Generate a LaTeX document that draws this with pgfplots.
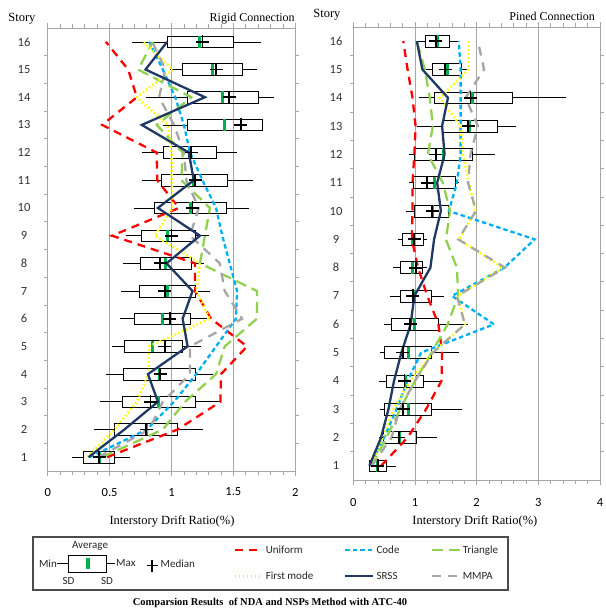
\documentclass[border=0pt]{standalone}
\usepackage{fontspec}
\setmainfont{Liberation Serif}
\newfontfamily\carlito{Carlito}
\usepackage{pgfplots}
\pgfplotsset{compat=1.18}
\usepgfplotslibrary{statistics}

\definecolor{cUni}{HTML}{FF0000}
\definecolor{cCode}{HTML}{00B0F0}
\definecolor{cTri}{HTML}{92D050}
\definecolor{cFirst}{HTML}{FFFF00}
\definecolor{cSRSS}{HTML}{1F3864}
\definecolor{cMMPA}{HTML}{A6A6A6}
\definecolor{cAvg}{HTML}{00B050}
\definecolor{cGrid}{HTML}{A6A6A6}

\pgfplotsset{
  panel/.style={
    scale only axis, ymin=0.5, ymax=16.5,
    ytick={1,...,16}, minor ytick={1.5,2.5,...,15.5},
    every major y tick/.style={draw=none},
    tick align=outside, major tick length=5pt, minor tick length=3.5pt,
    every tick/.style={cGrid, line width=0.7pt},
    xmajorgrids, grid style={cGrid, line width=0.9pt},
    axis line style={cGrid, line width=0.9pt},
    tick label style={font=\carlito\fontsize{12.5}{13}\selectfont, black},
    /pgf/number format/assume math mode=true,
    yticklabel style={anchor=center, text=black!80},
    boxplot/draw direction=x,
    boxplot/box extend=0.42,
    boxplot/whisker extend=0,
    boxplot/every box/.style={draw=black, line width=0.6pt},
    boxplot/every whisker/.style={black, line width=0.6pt},
    boxplot/every median/.style={draw=cAvg, line width=3pt},
    legend image code/.code={\draw[##1] (0pt,0pt) -- (28pt,0pt);},
  },
  Uni/.style={cUni, line width=2.3pt, dash pattern=on 8pt off 6pt},
  Code/.style={cCode, line width=2.3pt, dash pattern=on 4.5pt off 3pt},
  Tri/.style={cTri, line width=2.3pt, dash pattern=on 11pt off 6pt},
  First/.style={cFirst, line width=2.5pt, dash pattern=on 1.6pt off 2.4pt},
  SRSS/.style={cSRSS, line width=2.3pt},
  MMPA/.style={cMMPA, line width=2.3pt, dash pattern=on 9pt off 7pt},
  Med/.style={only marks, mark=+, mark size=6.5pt, black, mark options={line width=1.8pt}},
  bx/.style={forget plot, boxplot prepared={#1}},
}

\begin{document}
\begin{tikzpicture}
\path[use as bounding box] (0pt,0pt) rectangle (605pt,-612pt);

% ---------------- Left panel: Rigid Connection ----------------
\begin{axis}[panel,
  at={(47.7pt,-471pt)}, anchor=south west, width=247.6pt, height=443pt,
  xmin=0, xmax=2, xtick={0,0.5,1,1.5,2}, minor x tick num=4,
  yticklabel style={xshift=-18.7pt},
  xticklabel style={anchor=center, yshift=-16pt},
  xlabel={Interstory Drift Ratio(\%)},
  every axis x label/.style={at={(axis description cs:0.502,-0.113)}, anchor=center, font=\fontsize{12.5}{13}\selectfont},
  ylabel={Story},
  every axis y label/.style={at={(axis description cs:-0.104,1.02)}, anchor=center, font=\fontsize{12.5}{13}\selectfont},
  title={Rigid Connection},
  every axis title/.style={at={(axis description cs:1.012,1.022)}, anchor=east, font=\fontsize{12}{13}\selectfont},
]
\addplot[bx={draw position=16, lower whisker=0.68, lower quartile=0.97, median=1.23, upper quartile=1.50, upper whisker=1.72}] coordinates {};
\addplot[bx={draw position=15, lower whisker=0.99, lower quartile=1.09, median=1.33, upper quartile=1.575, upper whisker=1.69}] coordinates {};
\addplot[bx={draw position=14, lower whisker=0.79, lower quartile=1.13, median=1.41, upper quartile=1.70, upper whisker=1.83}] coordinates {};
\addplot[bx={draw position=13, lower whisker=0.93, lower quartile=1.13, median=1.43, upper quartile=1.73, upper whisker=1.73}] coordinates {};
\addplot[bx={draw position=12, lower whisker=0.76, lower quartile=0.93, median=1.145, upper quartile=1.36, upper whisker=1.53}] coordinates {};
\addplot[bx={draw position=11, lower whisker=0.76, lower quartile=0.92, median=1.18, upper quartile=1.45, upper whisker=1.66}] coordinates {};
\addplot[bx={draw position=10, lower whisker=0.70, lower quartile=0.86, median=1.15, upper quartile=1.44, upper whisker=1.63}] coordinates {};
\addplot[bx={draw position=9, lower whisker=0.63, lower quartile=0.76, median=0.97, upper quartile=1.19, upper whisker=1.30}] coordinates {};
\addplot[bx={draw position=8, lower whisker=0.61, lower quartile=0.745, median=0.95, upper quartile=1.16, upper whisker=1.26}] coordinates {};
\addplot[bx={draw position=7, lower whisker=0.59, lower quartile=0.74, median=0.965, upper quartile=1.19, upper whisker=1.315}] coordinates {};
\addplot[bx={draw position=6, lower whisker=0.58, lower quartile=0.70, median=0.925, upper quartile=1.15, upper whisker=1.29}] coordinates {};
\addplot[bx={draw position=5, lower whisker=0.52, lower quartile=0.615, median=0.85, upper quartile=1.085, upper whisker=1.235}] coordinates {};
\addplot[bx={draw position=4, lower whisker=0.47, lower quartile=0.61, median=0.90, upper quartile=1.195, upper whisker=1.335}] coordinates {};
\addplot[bx={draw position=3, lower whisker=0.42, lower quartile=0.60, median=0.895, upper quartile=1.195, upper whisker=1.395}] coordinates {};
\addplot[bx={draw position=2, lower whisker=0.37, lower quartile=0.54, median=0.795, upper quartile=1.045, upper whisker=1.255}] coordinates {};
\addplot[bx={draw position=1, lower whisker=0.20, lower quartile=0.29, median=0.415, upper quartile=0.54, upper whisker=0.665}] coordinates {};

\addplot[Uni] coordinates {(0.48,1)(1.05,2)(1.395,3)(1.40,4)(1.61,5)(1.32,6)(1.19,7)(1.19,8)(0.52,9)(1.06,10)(0.885,11)(0.88,12)(0.44,13)(0.72,14)(0.65,15)(0.47,16)};
\addplot[Code] coordinates {(0.34,1)(0.80,2)(1.02,3)(1.20,4)(1.36,5)(1.52,6)(1.53,7)(1.47,8)(1.41,9)(1.36,10)(1.25,11)(1.15,12)(1.10,13)(1.03,14)(0.93,15)(0.82,16)};
\addplot[Tri] coordinates {(0.44,1)(0.93,2)(1.11,3)(1.36,4)(1.43,5)(1.69,6)(1.69,7)(1.23,8)(1.27,9)(1.31,10)(1.08,11)(1.09,12)(0.88,13)(1.16,14)(0.73,15)(0.85,16)};
\addplot[First] coordinates {(0.32,1)(0.54,2)(0.72,3)(0.815,4)(0.82,5)(1.31,6)(1.20,7)(1.23,8)(0.865,9)(1.01,10)(1.0,11)(1.0,12)(0.97,13)(0.72,14)(1.01,15)(0.77,16)};
\addplot[MMPA] coordinates {(0.41,1)(0.82,2)(0.93,3)(1.15,4)(1.15,5)(1.57,6)(1.43,7)(1.39,8)(1.15,9)(1.22,10)(1.12,11)(1.10,12)(1.02,13)(0.90,14)(0.95,15)(0.845,16)};
\addplot[SRSS] coordinates {(0.33,1)(0.62,2)(0.89,3)(0.81,4)(1.13,5)(1.09,6)(1.17,7)(0.96,8)(1.23,9)(0.89,10)(1.18,11)(1.14,12)(0.76,13)(1.27,14)(0.79,15)(0.965,16)};

\addplot[Med] coordinates {(1.25,16)(1.36,15)(1.465,14)(1.56,13)(1.16,12)(1.19,11)(1.17,10)(1.00,9)(0.91,8)(0.945,7)(0.985,6)(0.945,5)(0.91,4)(0.83,3)(0.795,2)(0.415,1)};
\end{axis}

% ---------------- Right panel: Pined Connection ----------------
\begin{axis}[panel,
  at={(353.3pt,-480pt)}, anchor=south west, width=246.7pt, height=453pt,
  xmin=0, xmax=4, xtick={0,1,2,3,4}, minor x tick num=4,
  yticklabel style={xshift=-12.3pt},
  xticklabel style={anchor=center, yshift=-17pt},
  xlabel={Interstory Drift Ratio(\%)},
  every axis x label/.style={at={(axis description cs:0.493,-0.0905)}, anchor=center, font=\fontsize{12.5}{13}\selectfont},
  ylabel={Story},
  every axis y label/.style={at={(axis description cs:-0.107,1.0265)}, anchor=center, font=\fontsize{12.5}{13}\selectfont},
  title={Pined Connection},
  every axis title/.style={at={(axis description cs:0.994,1.024)}, anchor=east, font=\fontsize{12}{13}\selectfont},
  legend style={at={(axis description cs:-0.487,-0.14)}, anchor=north west, draw=none, fill=none,
    font=\carlito\fontsize{11}{12}\selectfont, text=black!85, row sep=13pt, inner sep=0pt,
    /tikz/every even column/.append style={column sep=29pt}},
  legend columns=3, legend cell align=left,
]
\addplot[bx={draw position=16, lower whisker=1.02, lower quartile=1.165, median=1.36, upper quartile=1.55, upper whisker=1.71}] coordinates {};
\addplot[bx={draw position=15, lower whisker=1.16, lower quartile=1.28, median=1.52, upper quartile=1.75, upper whisker=1.845}] coordinates {};
\addplot[bx={draw position=14, lower whisker=1.07, lower quartile=1.31, median=1.94, upper quartile=2.57, upper whisker=3.45}] coordinates {};
\addplot[bx={draw position=13, lower whisker=1.04, lower quartile=1.445, median=1.88, upper quartile=2.33, upper whisker=2.63}] coordinates {};
\addplot[bx={draw position=12, lower whisker=0.91, lower quartile=0.99, median=1.47, upper quartile=1.925, upper whisker=2.30}] coordinates {};
\addplot[bx={draw position=11, lower whisker=0.91, lower quartile=0.98, median=1.31, upper quartile=1.65, upper whisker=1.71}] coordinates {};
\addplot[bx={draw position=10, lower whisker=0.86, lower quartile=0.99, median=1.28, upper quartile=1.535, upper whisker=1.535}] coordinates {};
\addplot[bx={draw position=9, lower whisker=0.73, lower quartile=0.79, median=0.96, upper quartile=1.14, upper whisker=1.20}] coordinates {};
\addplot[bx={draw position=8, lower whisker=0.64, lower quartile=0.76, median=0.96, upper quartile=1.12, upper whisker=1.20}] coordinates {};
\addplot[bx={draw position=7, lower whisker=0.60, lower quartile=0.76, median=0.99, upper quartile=1.26, upper whisker=1.47}] coordinates {};
\addplot[bx={draw position=6, lower whisker=0.50, lower quartile=0.615, median=0.99, upper quartile=1.38, upper whisker=1.86}] coordinates {};
\addplot[bx={draw position=5, lower whisker=0.43, lower quartile=0.51, median=0.89, upper quartile=1.26, upper whisker=1.72}] coordinates {};
\addplot[bx={draw position=4, lower whisker=0.41, lower quartile=0.535, median=0.845, upper quartile=1.14, upper whisker=1.42}] coordinates {};
\addplot[bx={draw position=3, lower whisker=0.43, lower quartile=0.51, median=0.89, upper quartile=1.26, upper whisker=1.765}] coordinates {};
\addplot[bx={draw position=2, lower whisker=0.41, lower quartile=0.48, median=0.75, upper quartile=1.015, upper whisker=1.35}] coordinates {};
\addplot[bx={draw position=1, lower whisker=0.25, lower quartile=0.26, median=0.40, upper quartile=0.535, upper whisker=0.695}] coordinates {};

\addplot[Uni] coordinates {(0.45,1)(0.88,2)(1.18,3)(1.43,4)(1.44,5)(1.38,6)(1.20,7)(1.05,8)(0.95,9)(0.96,10)(0.96,11)(0.99,12)(1.01,13)(0.96,14)(0.88,15)(0.81,16)};
\addlegendentry{Uniform}
\addplot[Code] coordinates {(0.27,1)(0.50,2)(0.70,3)(0.88,4)(1.10,5)(2.28,6)(1.60,7)(2.45,8)(2.94,9)(1.55,10)(1.68,11)(1.74,12)(1.74,13)(1.74,14)(1.74,15)(1.71,16)};
\addlegendentry{Code}
\addplot[Tri] coordinates {(0.30,1)(0.54,2)(0.76,3)(1.00,4)(1.27,5)(1.53,6)(1.70,7)(1.68,8)(1.50,9)(1.57,10)(1.45,11)(1.21,12)(1.29,13)(1.24,14)(1.16,15)(1.03,16)};
\addlegendentry{Triangle}
\addplot[First] coordinates {(0.30,1)(0.48,2)(0.65,3)(0.92,4)(1.29,5)(1.81,6)(1.70,7)(2.42,8)(1.71,9)(1.98,10)(1.87,11)(1.78,12)(1.74,13)(1.40,14)(1.87,15)(1.87,16)};
\addlegendentry{First mode}
\addplot[SRSS] coordinates {(0.26,1)(0.45,2)(0.57,3)(0.66,4)(0.78,5)(0.93,6)(0.99,7)(1.25,8)(1.31,9)(1.42,10)(1.36,11)(1.48,12)(1.44,13)(1.535,14)(1.12,15)(1.03,16)};
\addlegendentry{SRSS}
\addplot[MMPA] coordinates {(0.30,1)(0.62,2)(0.75,3)(1.00,4)(1.29,5)(1.81,6)(1.68,7)(2.46,8)(1.70,9)(1.99,10)(1.86,11)(1.90,12)(2.02,13)(1.82,14)(2.12,15)(2.02,16)};
\addlegendentry{MMPA}

\addplot[Med, forget plot] coordinates {(1.34,16)(1.49,15)(1.90,14)(1.86,13)(1.34,12)(1.20,11)(1.28,10)(0.99,9)(1.015,8)(0.965,7)(0.925,6)(0.80,5)(0.83,4)(0.81,3)(0.74,2)(0.40,1)};
\end{axis}

% ---------------- Legend frame and box key ----------------
\draw[black!70, line width=1.2pt] (33pt,-537pt) rectangle (508pt,-590pt);
\begin{scope}[font=\carlito\fontsize{11}{12}\selectfont, text=black!85]
\draw[black, line width=0.7pt] (57pt,-563.5pt) -- (68pt,-563.5pt) (106pt,-563.5pt) -- (115pt,-563.5pt);
\draw[black, line width=0.7pt] (68pt,-555pt) rectangle (106pt,-572pt);
\fill[cAvg] (86pt,-558pt) rectangle (89.5pt,-569pt);
\node[anchor=center] at (90pt,-546pt) {Average};
\node[anchor=east, inner sep=0pt] at (57pt,-563.5pt) {Min};
\node[anchor=west, inner sep=0pt] at (116pt,-563.5pt) {Max};
\node[anchor=center] at (68.5pt,-580.5pt) {SD};
\node[anchor=center] at (107pt,-580.5pt) {SD};
\draw[black, line width=1.8pt] (146.5pt,-565.5pt) -- (157.5pt,-565.5pt) (152pt,-559.5pt) -- (152pt,-571.5pt);
\node[anchor=west, inner sep=0pt] at (160.5pt,-564pt) {Median};
\end{scope}
\node[font=\bfseries\fontsize{10.5}{12}\selectfont] at (270pt,-603pt) {Comparsion Results\ \ of NDA and NSPs Method with ATC-40};
\end{tikzpicture}
\end{document}
